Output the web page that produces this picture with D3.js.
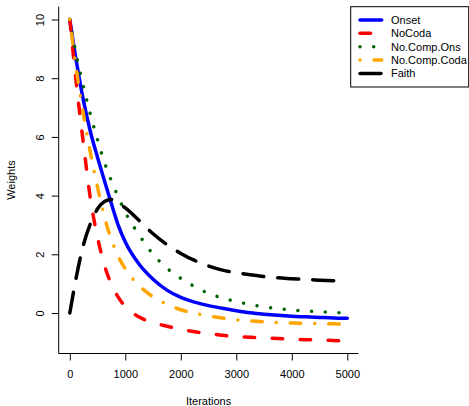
<!DOCTYPE html>
<html>
<head>
<meta charset="utf-8">
<script src="https://cdn.jsdelivr.net/npm/d3@7"></script>
<style>
  body { margin: 0; background: #fff; }
  svg { display: block; font-family: "Liberation Sans", Arial, sans-serif; }
</style>
</head>
<body>
<div id="chart"></div>
<script>
const iterations = [0, 125, 250, 375, 500, 625, 750, 875, 1000, 1250, 1500, 1750, 2000, 2250, 2500,
  2750, 3000, 3250, 3500, 3750, 4000, 4250, 4500, 4750, 5000];

const onset = [10, 8.5, 7.2, 6.15, 5.3, 4.5, 3.72, 2.98, 2.42, 1.66, 1.15, 0.78, 0.53, 0.37, 0.25,
  0.16, 0.08, 0.01, -0.04, -0.08, -0.11, -0.13, -0.15, -0.17, -0.18];
const noCoda = [10, 7.7, 5.7, 3.85, 2.58, 1.62, 0.98, 0.53, 0.22, -0.14, -0.33, -0.45, -0.56, -0.64, -0.7,
  -0.76, -0.8, -0.83, -0.85, -0.87, -0.89, -0.91, -0.92, -0.94, -0.95];
const noCompOns = [10, 8.72, 7.67, 6.74, 5.9, 5.13, 4.5, 3.94, 3.43, 2.66, 2.0, 1.53, 1.18, 0.9, 0.67,
  0.51, 0.39, 0.29, 0.21, 0.15, 0.1, 0.07, 0.04, 0.02, 0.0];
const noCompCoda = [10, 8.2, 6.72, 5.42, 4.28, 3.27, 2.5, 1.92, 1.5, 0.93, 0.55, 0.3, 0.11, -0.01, -0.1,
  -0.17, -0.23, -0.27, -0.3, -0.33, -0.345, -0.355, -0.365, -0.37, -0.38];
const faith = [0, 1.3, 2.35, 3.06, 3.55, 3.8, 3.87, 3.75, 3.58, 3.15, 2.7, 2.33, 2.03, 1.79, 1.6,
  1.46, 1.37, 1.3, 1.24, 1.2, 1.17, 1.14, 1.12, 1.1, 1.08];

const seriesNames = ["Onset", "NoCoda", "No.Comp.Ons", "No.Comp.Coda", "Faith"];
const seriesValues = [onset, noCoda, noCompOns, noCompCoda, faith];

const xTicks = [0, 1000, 2000, 3000, 4000, 5000];
const yTicks = [0, 2, 4, 6, 8, 10];

// line styles (R lty 1..5 at lwd ~3.5)
const styles = {
  "Onset":        {color: "#0000ff", dash: null},
  "NoCoda":       {color: "#ff0000", dash: "10.5 17.5"},
  "No.Comp.Ons":  {color: "#006400", dash: "0.01 13.7"},
  "No.Comp.Coda": {color: "#ffa500", dash: "0.01 14 10.5 14"},
  "Faith":        {color: "#000000", dash: "21 14"}
};

const width = 469;
const height = 406;
const plotLeft = 58.7, plotRight = 358.4, plotTop = 6.6, plotBottom = 353.5;

const x = d3.scaleLinear().domain([-200, 5200]).range([plotLeft, plotRight]);
const y = d3.scaleLinear().domain([-1.38, 10.44]).range([plotBottom, plotTop]);

const svg = d3.select("#chart").append("svg")
    .attr("width", width)
    .attr("height", height)
    .attr("viewBox", [0, 0, width, height]);

const series = seriesNames.map((name, i) => ({
  name,
  points: iterations.map((it, j) => [it, seriesValues[i][j]])
}));

const line = d3.line()
    .x(d => x(d[0]))
    .y(d => y(d[1]))
    .curve(d3.curveMonotoneX);

svg.append("g")
    .attr("fill", "none")
    .attr("stroke-width", 3.5)
    .attr("stroke-linecap", "round")
  .selectAll("path")
  .data(series)
  .join("path")
    .attr("stroke", d => styles[d.name].color)
    .attr("stroke-dasharray", d => styles[d.name].dash)
    .attr("d", d => line(d.points));

// L-shaped box
svg.append("path")
    .attr("fill", "none")
    .attr("stroke", "#000")
    .attr("stroke-width", 1)
    .attr("d", `M${plotLeft},${plotTop}V${plotBottom}H${plotRight}`);

// x axis
svg.append("g")
    .attr("transform", `translate(0,${plotBottom})`)
    .call(d3.axisBottom(x).tickValues(xTicks).tickFormat(d3.format("d")).tickSize(7).tickPadding(10))
    .call(g => g.select(".domain").remove())
    .call(g => g.selectAll(".tick line").attr("stroke", "#000"))
    .call(g => g.selectAll(".tick text")
      .attr("fill", "#000")
      .style("font-size", "11px")
      .style("font-family", "Liberation Sans, Arial, sans-serif"));

// y axis, labels rotated like R's las = 0
svg.append("g")
    .attr("transform", `translate(${plotLeft},0)`)
    .call(d3.axisLeft(y).tickValues(yTicks).tickFormat(d3.format("d")).tickSize(7))
    .call(g => g.select(".domain").remove())
    .call(g => g.selectAll(".tick line").attr("stroke", "#000"))
    .call(g => g.selectAll(".tick text")
      .attr("x", null)
      .attr("dy", "0.35em")
      .attr("text-anchor", "middle")
      .attr("transform", `translate(-19,0) rotate(-90)`)
      .attr("fill", "#000")
      .style("font-size", "11px")
      .style("font-family", "Liberation Sans, Arial, sans-serif"));

svg.append("text")
    .attr("x", (plotLeft + plotRight) / 2)
    .attr("y", 401)
    .attr("dy", "0.35em")
    .attr("text-anchor", "middle")
    .style("font-size", "11px")
    .text("Iterations");

svg.append("text")
    .attr("transform", `translate(11.5,${(plotTop + plotBottom) / 2}) rotate(-90)`)
    .attr("dy", "0.35em")
    .attr("text-anchor", "middle")
    .style("font-size", "11px")
    .text("Weights");

// legend
const legend = svg.append("g");
legend.append("rect")
    .attr("x", 350.7)
    .attr("y", 6.7)
    .attr("width", 118)
    .attr("height", 80.3)
    .attr("fill", "#fff")
    .attr("stroke", "#000")
    .attr("stroke-width", 1);

const item = legend.selectAll("g.item")
  .data(seriesNames)
  .join("g")
    .attr("class", "item")
    .attr("transform", (d, i) => `translate(0,${20 + i * 13.35})`);

item.append("line")
    .attr("x1", 360)
    .attr("x2", 381.7)
    .attr("stroke", d => styles[d].color)
    .attr("stroke-dasharray", d => styles[d].dash)
    .attr("stroke-width", 3.5)
    .attr("stroke-linecap", "round");

item.append("text")
    .attr("x", 391)
    .attr("dy", "0.35em")
    .style("font-size", "11px")
    .text(d => d);
</script>
</body>
</html>
